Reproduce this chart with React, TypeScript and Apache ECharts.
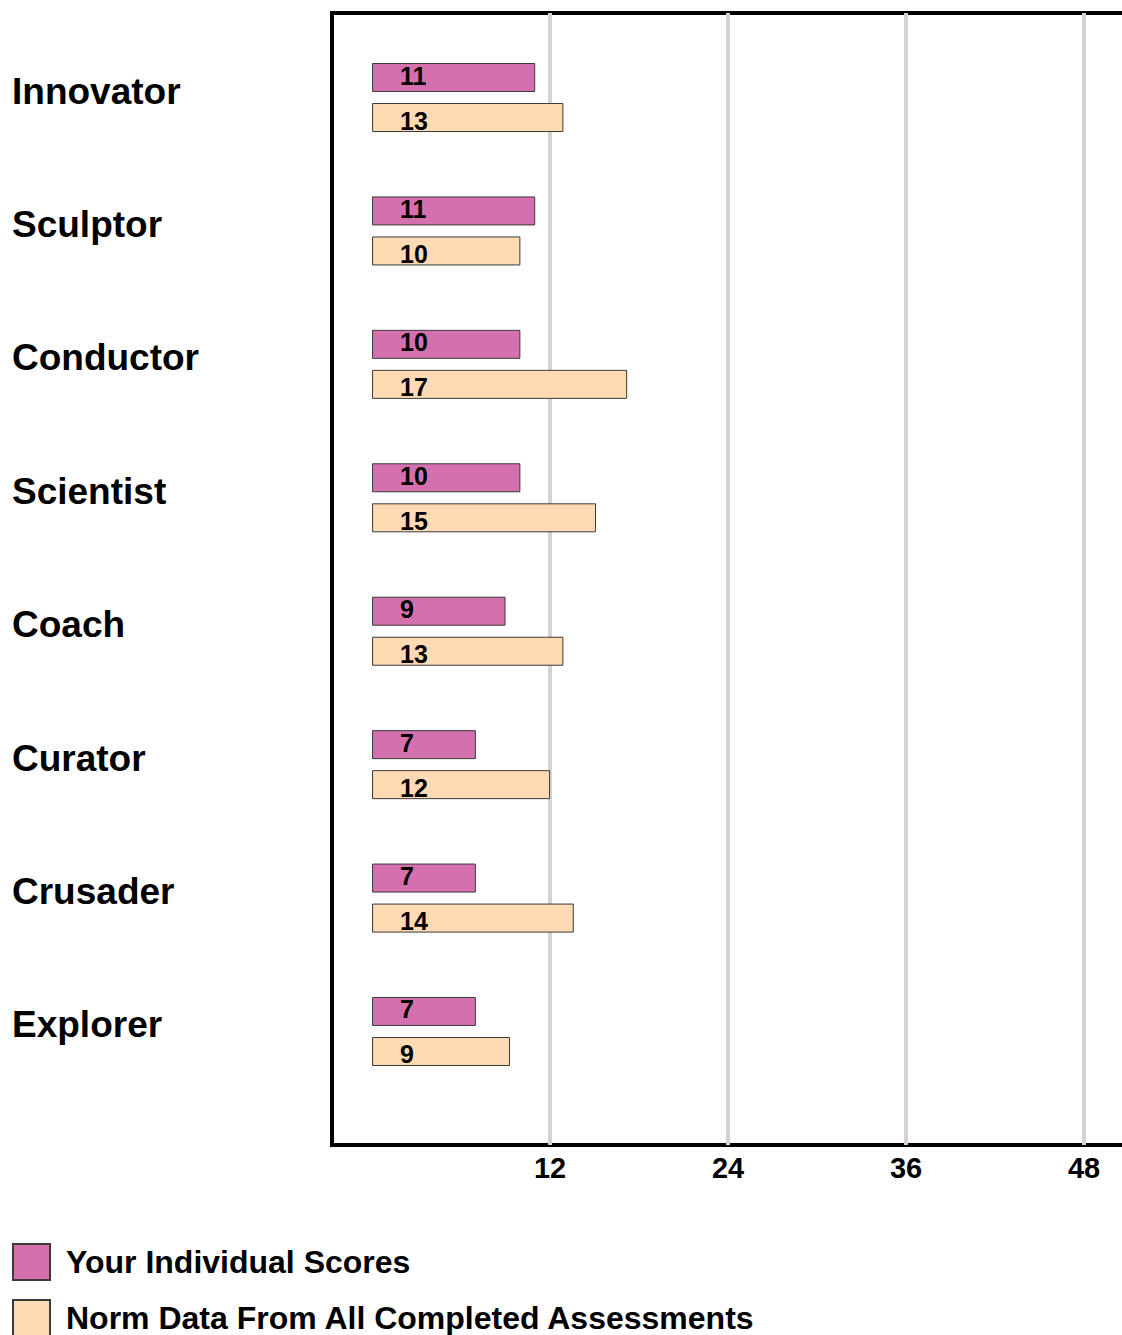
import React, { useEffect, useRef } from "react";
import * as echarts from "echarts";

const categories = ["Innovator", "Sculptor", "Conductor", "Scientist", "Coach", "Curator", "Crusader", "Explorer"];
const individualScores = [11, 11, 10, 10, 9, 7, 7, 7];
const normScores = [12.9, 10.0, 17.2, 15.1, 12.9, 12.0, 13.6, 9.3];
const tickValues = [12, 24, 36, 48];
const seriesNames = ["Your Individual Scores", "Norm Data From All Completed Assessments"];

const FONT = "'Liberation Sans', Arial, Helvetica, sans-serif";

export default function App() {
  const ref = useRef<HTMLDivElement>(null);
  useEffect(() => {
    if (!ref.current) return;
    const chart = echarts.init(ref.current, null, { renderer: "svg" });
    const xMin = -2.7;
    const xMax = 54;
    chart.setOption({
      animation: false,
      backgroundColor: "#ffffff",
      textStyle: { fontFamily: FONT },
      grid: [
        {
          left: 332, top: 13, width: 841, height: 1132, show: true,
          borderColor: "#000", borderWidth: 4, backgroundColor: "transparent",
          outerBoundsMode: "none", containLabel: false,
        },
        {
          left: 332, top: 30.8, width: 841, height: 1067.4, show: false,
          outerBoundsMode: "none", containLabel: false,
        },
      ],
      xAxis: [
        {
          type: "value",
          gridIndex: 0,
          min: xMin,
          max: xMax,
          axisLine: { show: false },
          axisTick: { show: false, customValues: tickValues },
          splitLine: { show: true, lineStyle: { color: "#d8d0d3", width: 4 } },
          axisLabel: {
            show: true,
            customValues: tickValues,
            fontSize: 29,
            fontWeight: "bold",
            color: "#000",
            fontFamily: FONT,
            margin: 8,
          },
        },
        {
          type: "value",
          gridIndex: 1,
          min: xMin,
          max: xMax,
          show: false,
          splitLine: { show: false },
        },
      ],
      yAxis: [
        { type: "value", gridIndex: 0, min: 0, max: 1, show: false, splitLine: { show: false } },
        {
          type: "category",
          gridIndex: 1,
          data: categories,
          inverse: true,
          axisLine: { show: false },
          axisTick: { show: false },
          splitLine: { show: false },
          axisLabel: {
            margin: 320,
            align: "left",
            verticalAlign: "middle",
            formatter: (v: string) => `{c|${v}}`,
            rich: {
              c: {
                padding: [0, 0, 13, 0],
                fontSize: 37,
                fontWeight: "bold",
                color: "#000",
                fontFamily: FONT,
              },
            },
          },
        },
      ],
      legend: {
        orient: "vertical",
        left: 12,
        top: 1243,
        height: 120,
        padding: 0,
        itemWidth: 37,
        itemHeight: 36,
        itemGap: 18,
        icon: "rect",
        data: seriesNames,
        textStyle: { fontSize: 32, fontWeight: "bold", color: "#000", fontFamily: FONT, padding: [0, 0, 0, 11] },
      },
      series: [
        {
          name: seriesNames[0],
          type: "bar",
          xAxisIndex: 1,
          yAxisIndex: 1,
          data: individualScores,
          barWidth: 29,
          barGap: "38%",
          itemStyle: { color: "#d470ae", borderColor: "#3a3a3a", borderWidth: 1 },
          label: {
            show: true,
            position: [28, "50%"],
            align: "left",
            verticalAlign: "middle",
            offset: [0, -2],
            fontSize: 25,
            fontWeight: "bold",
            color: "#000",
            fontFamily: FONT,
            formatter: (p: any) => String(Math.round(p.value)),
          },
        },
        {
          name: seriesNames[1],
          type: "bar",
          xAxisIndex: 1,
          yAxisIndex: 1,
          data: normScores,
          barWidth: 29,
          barGap: "38%",
          itemStyle: { color: "#ffdab3", borderColor: "#3a3a3a", borderWidth: 1 },
          label: {
            show: true,
            position: [28, "50%"],
            align: "left",
            verticalAlign: "middle",
            offset: [0, 3],
            fontSize: 25,
            fontWeight: "bold",
            color: "#000",
            fontFamily: FONT,
            formatter: (p: any) => String(Math.round(p.value)),
          },
        },
      ],
    });
    return () => chart.dispose();
  }, []);
  return <div ref={ref} style={{ position: "absolute", left: 0, top: 0, width: 1122, height: 1335 }} />;
}
